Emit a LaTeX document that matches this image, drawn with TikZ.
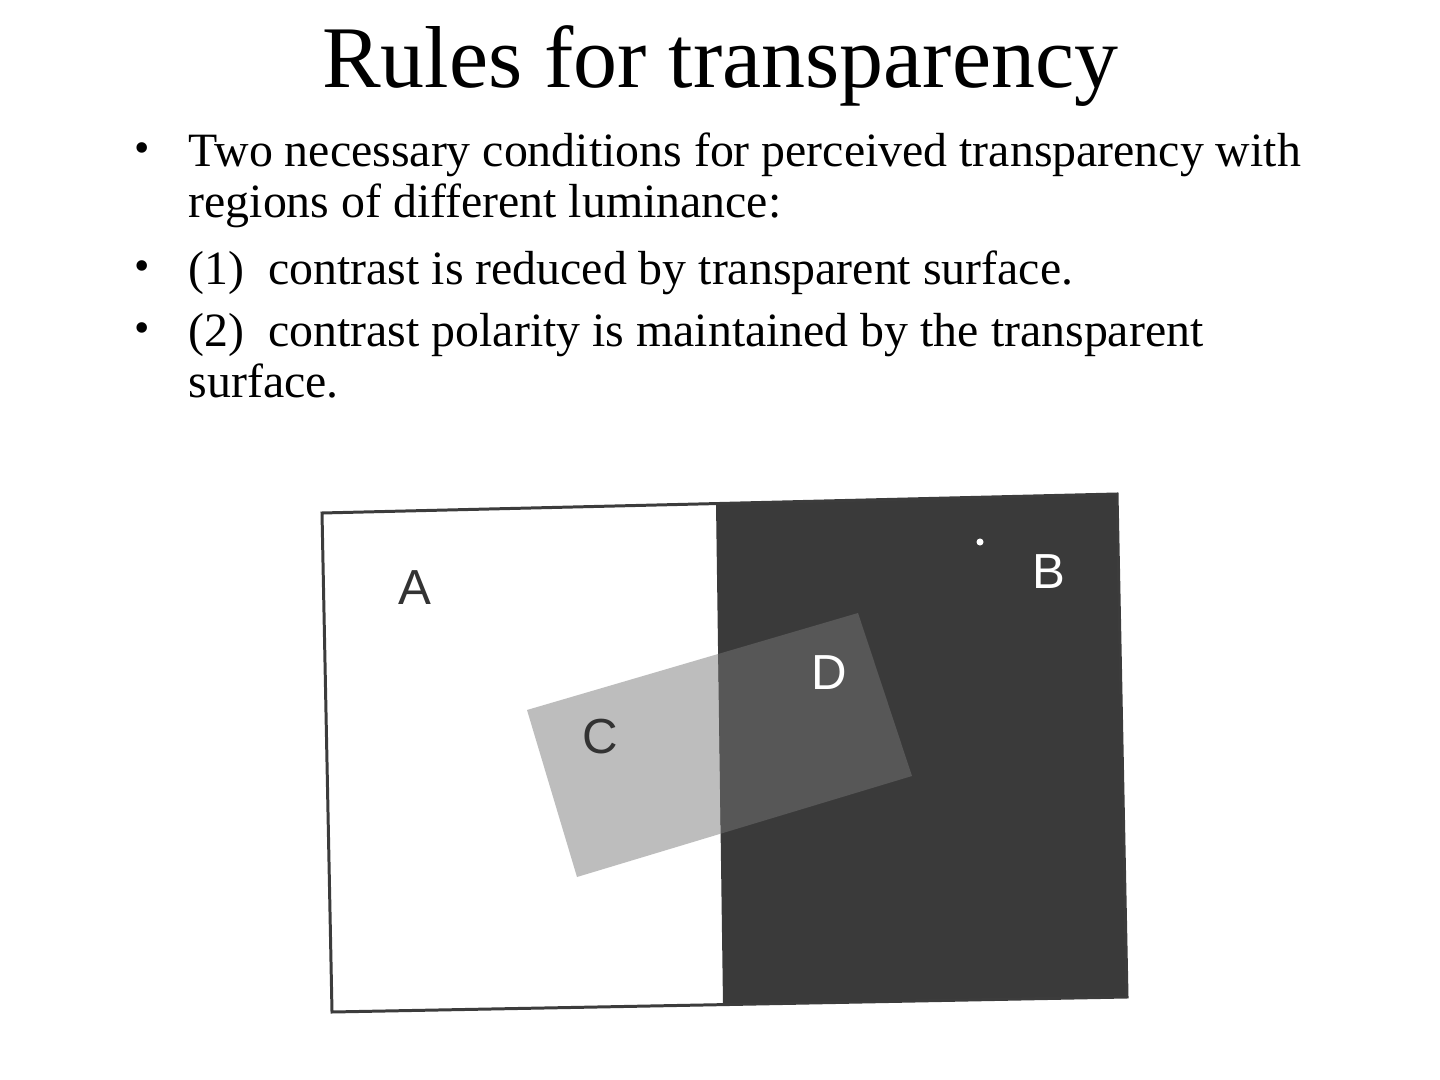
\documentclass[tikz,border=0pt]{standalone}
\usepackage{fontspec}
\setmainfont{Liberation Serif}
\newfontfamily\labelfont{Liberation Sans}
\usetikzlibrary{positioning}

\definecolor{framegray}{HTML}{3C3C3C}
\definecolor{surfdark}{HTML}{3A3A3A}
\definecolor{patchlight}{HTML}{BDBDBD}
\definecolor{patchdark}{HTML}{575757}

\tikzset{
  linetext/.style={anchor=base west, inner sep=0pt, font=\fontsize{13.6}{14.5}\selectfont},
  bulletdot/.style={anchor=base, inner sep=0pt, font=\fontsize{12.5}{13}\selectfont},
  regionlabel/.style={inner sep=0pt, font=\labelfont\fontsize{14}{14}\selectfont}
}

\begin{document}
\begin{tikzpicture}[x=0.01cm, y=-0.01cm]
    \useasboundingbox (0,0) rectangle (1440,1080);
    \node[anchor=base, inner sep=0pt, font=\fontsize{25}{30}\selectfont] (title) at (720,88) {Rules for transparency};
    % Bullet list
    \node[bulletdot] (dot1) at (142,163) {•};
    \node[linetext] (cond1) at (188,167) {Two necessary conditions for perceived transparency with};
    \node[linetext] (cond2) at (188,218) {regions of different luminance:};
    \node[bulletdot] (dot2) at (142,281) {•};
    \node[linetext] (rule1) at (188,285) {(1)\enspace contrast is reduced by transparent surface.};
    \node[bulletdot] (dot3) at (142,343) {•};
    \node[linetext] (rule2a) at (188,347) {(2)\enspace contrast polarity is maintained by the transparent};
    \node[linetext] (rule2b) at (188,398) {surface.};
    % Background surfaces A and B
    \coordinate (tl) at (322,513); \coordinate (tm) at (716,504); \coordinate (tr) at (1117,494);
    \coordinate (bl) at (332,1012); \coordinate (bm) at (723,1005); \coordinate (br) at (1127,997);
    \fill[white] (tl) -- (tm) -- (bm) -- (bl) -- cycle;
    \fill[surfdark] (tm) -- (tr) -- (br) -- (bm) -- cycle;
    % Transparent patch over both surfaces
    \coordinate (p1) at (527,710); \coordinate (p2) at (858,613);
    \coordinate (p3) at (912,776); \coordinate (p4) at (577,877);
    \begin{scope}
        \clip (tl) -- (tm) -- (bm) -- (bl) -- cycle;
        \fill[patchlight] (p1) -- (p2) -- (p3) -- (p4) -- cycle;
    \end{scope}
    \begin{scope}
        \clip (tm) -- (tr) -- (br) -- (bm) -- cycle;
        \fill[patchdark] (p1) -- (p2) -- (p3) -- (p4) -- cycle;
    \end{scope}
    \draw[framegray, line width=0.85pt] (tl) -- (tr) -- (br) -- (bl) -- cycle;
    \fill[white] (980,542) circle (1pt);
    % Region labels
    \node[regionlabel, text=black!80] (labA) at (415,588) {A};
    \node[regionlabel, text=white] (labB) at (1049,572) {B};
    \node[regionlabel, text=black!80] (labC) at (600,737) {C};
    \node[regionlabel, text=white] (labD) at (829,673) {D};
\end{tikzpicture}
\end{document}
